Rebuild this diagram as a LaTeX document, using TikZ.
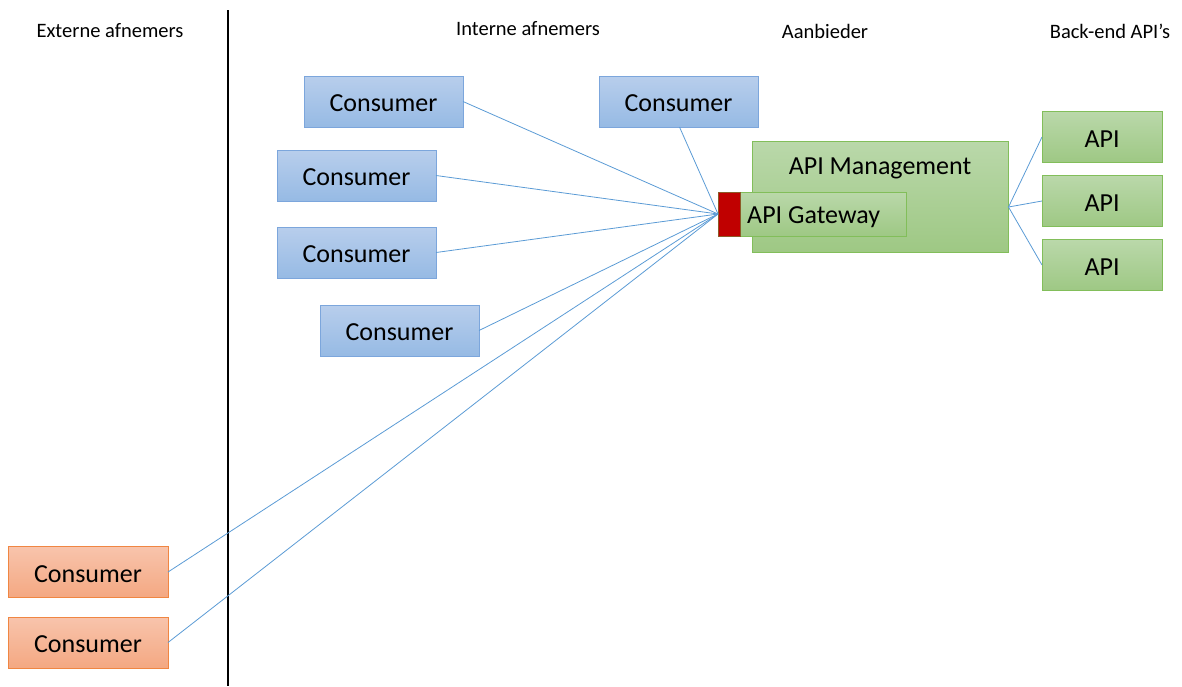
\documentclass[tikz,border=0pt]{standalone}
\usepackage{fontspec}
\setmainfont{Carlito}
\definecolor{blueTop}{RGB}{184,206,236}
\definecolor{blueBot}{RGB}{150,186,228}
\definecolor{blueLine}{RGB}{124,166,220}
\definecolor{greenTop}{RGB}{186,216,170}
\definecolor{greenBot}{RGB}{158,200,132}
\definecolor{greenLine}{RGB}{130,190,90}
\definecolor{orangeTop}{RGB}{248,196,172}
\definecolor{orangeBot}{RGB}{244,168,130}
\definecolor{orangeLine}{RGB}{240,134,66}
\definecolor{linkBlue}{RGB}{91,155,213}
\definecolor{gateRed}{RGB}{192,0,0}
\definecolor{gateEdge}{RGB}{140,90,40}
\tikzset{
  box/.style={draw, line width=0.9pt, outer sep=0pt, inner sep=0pt,
    font=\fontsize{26}{30}\selectfont, text height=20.5pt, text depth=0pt},
  internal/.style={box, draw=blueLine, top color=blueTop, bottom color=blueBot,
    minimum width=159pt, minimum height=51pt},
  external/.style={box, draw=orangeLine, top color=orangeTop, bottom color=orangeBot,
    minimum width=160pt, minimum height=51pt},
  backend/.style={box, draw=greenLine, top color=greenTop, bottom color=greenBot,
    minimum width=120pt, minimum height=51pt},
  heading/.style={font=\fontsize{20.5}{24}\selectfont, inner sep=0pt, yshift=-1pt},
  biglabel/.style={font=\fontsize{26}{30}\selectfont, inner sep=0pt, yshift=-2.5pt},
  link/.style={draw=linkBlue, line width=0.8pt}
}
\begin{document}
\begin{tikzpicture}[x=1pt,y=-1pt]
\useasboundingbox (0,0) rectangle (1182,686);

% column headings and the divider between external and internal consumers
\node[heading] (hExt) at (110,30) {Externe afnemers};
\node[heading] (hInt) at (528,28) {Interne afnemers};
\node[heading] (hProv) at (825,30) {Aanbieder};
\node[heading] (hBack) at (1110,30) {Back-end API’s};
\coordinate (divTop) at (228,10);
\coordinate (divBot) at (228,686);
\draw[line width=1.6pt] (divTop) -- (divBot);

% provider: API management with its gateway
\node[box, draw=greenLine, top color=greenTop, bottom color=greenBot,
  minimum width=256pt, minimum height=111pt] (mgmt) at (880,196.5) {};
\node[biglabel] (mgmtLabel) at (880,166) {API Management};
\node[box, draw=greenLine, top color=greenTop, bottom color=greenBot,
  minimum width=188pt, minimum height=44pt] (gw) at (812,214) {};
\node[box, draw=gateEdge, fill=gateRed, minimum width=22pt, minimum height=44pt] (gwPort) at (729,214) {};
\node[biglabel, anchor=west] (gwLabel) at (747,215) {API Gateway};

% internal consumers
\node[internal] (c1) at (383.5,101.5) {Consumer};
\node[internal] (c2) at (356.5,175.5) {Consumer};
\node[internal] (c3) at (356.5,252.5) {Consumer};
\node[internal] (c4) at (399.5,330.5) {Consumer};
\node[internal] (c5) at (678.5,101.5) {Consumer};

% external consumers
\node[external] (e1) at (88,572) {Consumer};
\node[external] (e2) at (88,642.5) {Consumer};

% back-end APIs
\node[backend] (a1) at (1102,137) {API};
\node[backend] (a2) at (1102,201) {API};
\node[backend] (a3) at (1102,265) {API};

% consumer links into the gateway
\draw[link] (c1.east) -- (gw.west);
\draw[link] (c2.east) -- (gw.west);
\draw[link] (c3.east) -- (gw.west);
\draw[link] (c4.east) -- (gw.west);
\draw[link] ([xshift=1pt]c5.south) -- (gw.west);
\draw[link] (e1.east) -- (gw.west);
\draw[link] (e2.east) -- (gw.west);

% management to back-end links
\coordinate (mgmtOut) at (1008.5,207);
\draw[link] (mgmtOut) -- (a1.west);
\draw[link] (mgmtOut) -- (a2.west);
\draw[link] (mgmtOut) -- (a3.west);
\end{tikzpicture}
\end{document}
